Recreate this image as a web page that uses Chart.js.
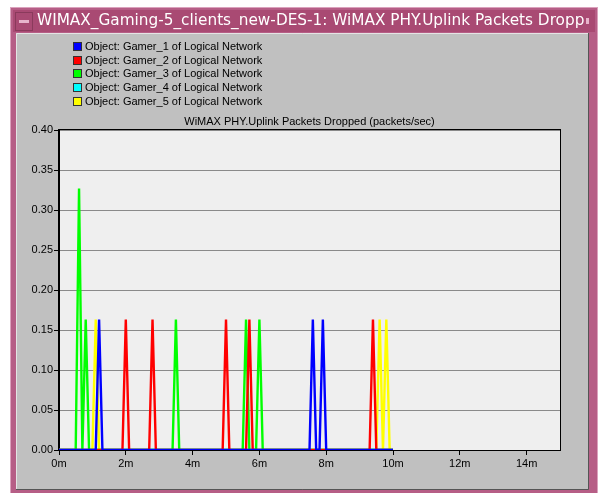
<!DOCTYPE html>
<html>
<head>
<meta charset="utf-8">
<script src="https://cdn.jsdelivr.net/npm/chart.js@4/dist/chart.umd.min.js"></script>
<style>
  html, body { margin: 0; padding: 0; background: #fff; }
  canvas { display: block; }
</style>
</head>
<body>
<canvas id="chart" width="603" height="493"></canvas>
<script>
const windowTitle = 'WIMAX_Gaming-5_clients_new-DES-1: WiMAX PHY.Uplink Packets Dropped (packets/sec)';
const plotTitle = 'WiMAX PHY.Uplink Packets Dropped (packets/sec)';

const seriesNames = [
  'Object: Gamer_1 of Logical Network',
  'Object: Gamer_2 of Logical Network',
  'Object: Gamer_3 of Logical Network',
  'Object: Gamer_4 of Logical Network',
  'Object: Gamer_5 of Logical Network'
];
const seriesColors = ['#0000ff', '#ff0000', '#00ff00', '#00ffff', '#ffff00'];

// sim time in minutes, dropped packets/sec
const gamer1Time = [0, 1.1, 1.2, 1.3, 7.5, 7.6, 7.7, 7.8, 7.9, 8.0, 10];
const gamer1Vals = [0, 0, 0.163, 0, 0, 0.163, 0, 0, 0.163, 0, 0];

const gamer2Time = [0, 1.9, 2.0, 2.1, 2.7, 2.8, 2.9, 4.9, 5.0, 5.1, 5.6, 5.7, 5.8, 9.3, 9.4, 9.5, 10];
const gamer2Vals = [0, 0, 0.163, 0, 0, 0.163, 0, 0, 0.163, 0, 0, 0.163, 0, 0, 0.163, 0, 0];

const gamer3Time = [0, 0.5, 0.6, 0.7, 0.8, 0.9, 3.4, 3.5, 3.6, 5.5, 5.6, 5.7, 5.9, 6.0, 6.1, 10];
const gamer3Vals = [0, 0, 0.327, 0, 0.163, 0, 0, 0.163, 0, 0, 0.163, 0, 0, 0.163, 0, 0];

const gamer4Time = [0, 10];
const gamer4Vals = [0, 0];

const gamer5Time = [0, 1.0, 1.1, 1.2, 9.5, 9.6, 9.7, 9.8, 9.9, 10];
const gamer5Vals = [0, 0, 0.163, 0, 0, 0.163, 0, 0.163, 0, 0];

const xTicks = [0, 2, 4, 6, 8, 10, 12, 14];
const yTicks = [0, 0.05, 0.10, 0.15, 0.20, 0.25, 0.30, 0.35, 0.40];

function pts(t, v) {
  return t.map((x, i) => ({ x: x, y: v[i] }));
}

const allSeries = [
  pts(gamer1Time, gamer1Vals),
  pts(gamer2Time, gamer2Vals),
  pts(gamer3Time, gamer3Vals),
  pts(gamer4Time, gamer4Vals),
  pts(gamer5Time, gamer5Vals)
];

const datasets = allSeries.map((d, i) => ({
  label: seriesNames[i],
  data: d,
  borderColor: seriesColors[i],
  backgroundColor: seriesColors[i],
  borderWidth: 2.4,
  pointRadius: 0,
  tension: 0,
  fill: false
}));

// window chrome, gray panel and the plot background
const framePlugin = {
  id: 'frame',
  beforeDraw(chart) {
    const c = chart.ctx;
    const a = chart.chartArea;
    c.save();
    c.fillStyle = '#ffffff';
    c.fillRect(0, 0, 603, 493);

    // outer frame
    c.fillStyle = '#b65e86';
    c.fillRect(10, 7, 588, 486);
    c.strokeStyle = '#dba2bd';
    c.lineWidth = 1;
    c.strokeRect(10.5, 7.5, 587, 490);

    // title bar
    c.fillStyle = '#a94a73';
    c.fillRect(13, 10, 582, 22);
    c.strokeStyle = '#8a3a5c';
    c.strokeRect(15.5, 12.5, 17, 18);
    c.fillStyle = '#e8b4cc';
    c.fillRect(19, 20, 10, 3);
    c.fillStyle = '#ffffff';
    c.font = '15.3px "DejaVu Sans"';
    c.textBaseline = 'middle';
    c.save();
    c.beginPath();
    c.rect(36, 10, 549, 22);
    c.clip();
    c.fillText(windowTitle, 37, 21);
    c.restore();
    c.fillStyle = '#e8b4cc';
    c.fillRect(586, 18, 3, 6);

    // gray panel
    c.fillStyle = '#c0c0c0';
    c.fillRect(16, 33, 573, 456);
    c.strokeStyle = '#555555';
    c.beginPath();
    c.moveTo(588.5, 33); c.lineTo(588.5, 489.5); c.lineTo(16, 489.5);
    c.stroke();
    c.strokeStyle = '#e4e4e4';
    c.beginPath();
    c.moveTo(16.5, 489); c.lineTo(16.5, 33.5); c.lineTo(588, 33.5);
    c.stroke();

    // plot area
    c.fillStyle = '#efefef';
    c.fillRect(a.left, a.top, a.right - a.left, a.bottom - a.top);
    c.restore();
  },
  beforeDatasetsDraw(chart) {
    const c = chart.ctx;
    const a = chart.chartArea;
    c.save();
    c.strokeStyle = '#000000';
    c.lineWidth = 1;
    c.strokeRect(a.left - 0.5, a.top - 0.5, a.right - a.left + 1, a.bottom - a.top + 1);
    c.restore();
  },
  afterDraw(chart) {
    const c = chart.ctx;
    const a = chart.chartArea;
    c.save();
    c.font = '11px "Liberation Sans"';
    c.textBaseline = 'middle';
    c.fillStyle = '#000000';
    c.textAlign = 'center';
    c.fillText(plotTitle, (a.left + a.right) / 2, 122);

    // legend
    c.textAlign = 'left';
    chart.data.datasets.forEach((ds, i) => {
      const y = 47 + i * 13.7;
      c.fillStyle = ds.borderColor;
      c.fillRect(74, Math.round(y) - 4, 7, 7);
      c.strokeStyle = '#333333';
      c.strokeRect(73.5, Math.round(y) - 4.5, 8, 8);
      c.fillStyle = '#000000';
      c.fillText(ds.label, 85, y);
    });
    c.restore();
  }
};

new Chart(document.getElementById('chart'), {
  type: 'line',
  data: { datasets: datasets },
  options: {
    responsive: false,
    animation: false,
    layout: { padding: { left: 16, top: 130, right: 43, bottom: 21 } },
    plugins: {
      legend: { display: false },
      title: { display: false },
      tooltip: { enabled: false }
    },
    scales: {
      x: {
        type: 'linear',
        min: 0,
        max: 15,
        afterBuildTicks: (s) => { s.ticks = xTicks.map(v => ({ value: v })); },
        afterFit: (s) => { s.height = 22; },
        ticks: {
          color: '#000',
          font: { family: 'Liberation Sans', size: 11 },
          padding: 2,
          maxRotation: 0,
          autoSkip: false,
          callback: (v) => v + 'm'
        },
        grid: { drawOnChartArea: false, tickLength: 5, tickColor: '#000' },
        border: { display: true, color: '#000' }
      },
      y: {
        min: 0,
        max: 0.4,
        afterBuildTicks: (s) => { s.ticks = yTicks.map(v => ({ value: v })); },
        afterFit: (s) => { s.width = 43; },
        ticks: {
          color: '#000',
          font: { family: 'Liberation Sans', size: 11 },
          padding: 1,
          autoSkip: false,
          callback: (v) => v.toFixed(2)
        },
        grid: { color: '#8a8a8a', lineWidth: 1, tickLength: 5, tickColor: '#000' },
        border: { display: true, color: '#000' }
      }
    }
  },
  plugins: [framePlugin]
});
</script>
</body>
</html>
